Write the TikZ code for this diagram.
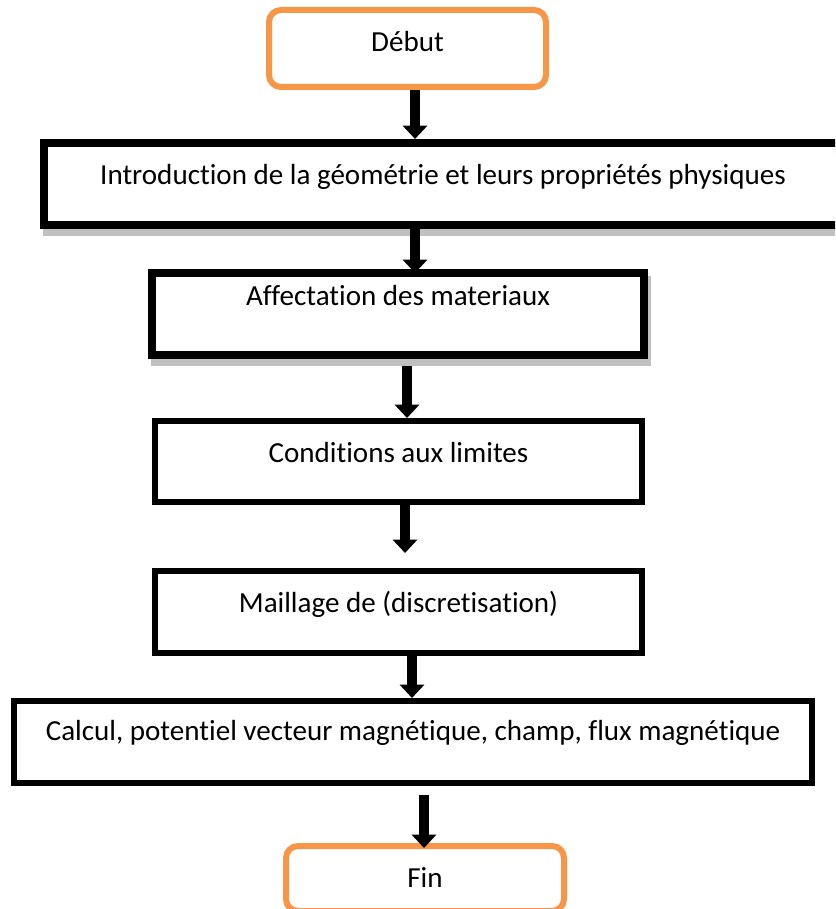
\documentclass[tikz,border=0pt]{standalone}
\usepackage{fontspec}
\setmainfont{Carlito}[Ligatures=NoCommon]
\usetikzlibrary{arrows.meta}
\definecolor{startorange}{HTML}{F79646}
\definecolor{shadowgray}{HTML}{C0C0C0}
\begin{document}
\begin{tikzpicture}[
    x=0.75pt, y=-0.75pt,
    every node/.style={font=\fontsize{21.8}{26}\selectfont, inner sep=0pt},
    terminal/.style={draw=startorange, line width=4.5pt, rounded corners=9pt, fill=white},
    stepbox/.style={draw, line width=4.5pt, fill=white},
    heavybox/.style={stepbox, line width=6pt,
        preaction={draw=shadowgray, line width=6pt,
            transform canvas={shift={(2.25pt,-5.25pt)}}}},
    flow/.style={-{Triangle[width=18pt, length=10pt]}, line width=7.5pt}
]

\useasboundingbox (0,0) rectangle (835,909);
\clip (0,0) rectangle (835,909);

% columns of the arrows
\coordinate (c1) at (415,0);
\coordinate (c2) at (415,0);
\coordinate (c3) at (407,0);
\coordinate (c4) at (405,0);
\coordinate (c5) at (412,0);
\coordinate (c6) at (424,0);

\node[terminal, minimum width=207.75pt, text height=31.5pt, text depth=26.25pt]
    (debut) at (407.5,48.5) {Début};

\node[heavybox, minimum width=598.5pt, text height=31.5pt, text depth=30pt]
    (intro) at (443,184) {Introduction de la géométrie et leurs propriétés physiques};

\node[heavybox, minimum width=369pt, text height=24pt, text depth=37.5pt]
    (affect) at (398,314) {Affectation des materiaux};

\node[stepbox, minimum width=365.25pt, text height=30.75pt, text depth=30pt]
    (limites) at (398.5,461.5) {Conditions aux limites};

\node[stepbox, minimum width=365.25pt, text height=30.75pt, text depth=30.75pt]
    (maillage) at (398.5,612) {Maillage de (discretisation)};

\node[stepbox, minimum width=598.5pt, text height=29.25pt, text depth=32.25pt]
    (calcul) at (413,742) {Calcul, potentiel vecteur magnétique, champ, flux magnétique};

\node[terminal, minimum width=208.5pt, text height=30.75pt, text depth=18pt]
    (fin) at (425,878.5) {Fin};

\draw[flow] (debut.south -| c1) -- (intro.north -| c1);
\draw[flow, shorten >=-3pt] (intro.south -| c2) -- (affect.north -| c2);
\draw[flow, shorten <=5pt] (affect.south -| c3) -- (limites.north -| c3);
\draw[flow, shorten >=11.25pt] (limites.south -| c4) -- (maillage.north -| c4);
\draw[flow] (maillage.south -| c5) -- (calcul.north -| c5);
\draw[flow, shorten <=6.75pt, shorten >=-3.75pt] (calcul.south -| c6) -- (fin.north -| c6);
\end{tikzpicture}
\end{document}
